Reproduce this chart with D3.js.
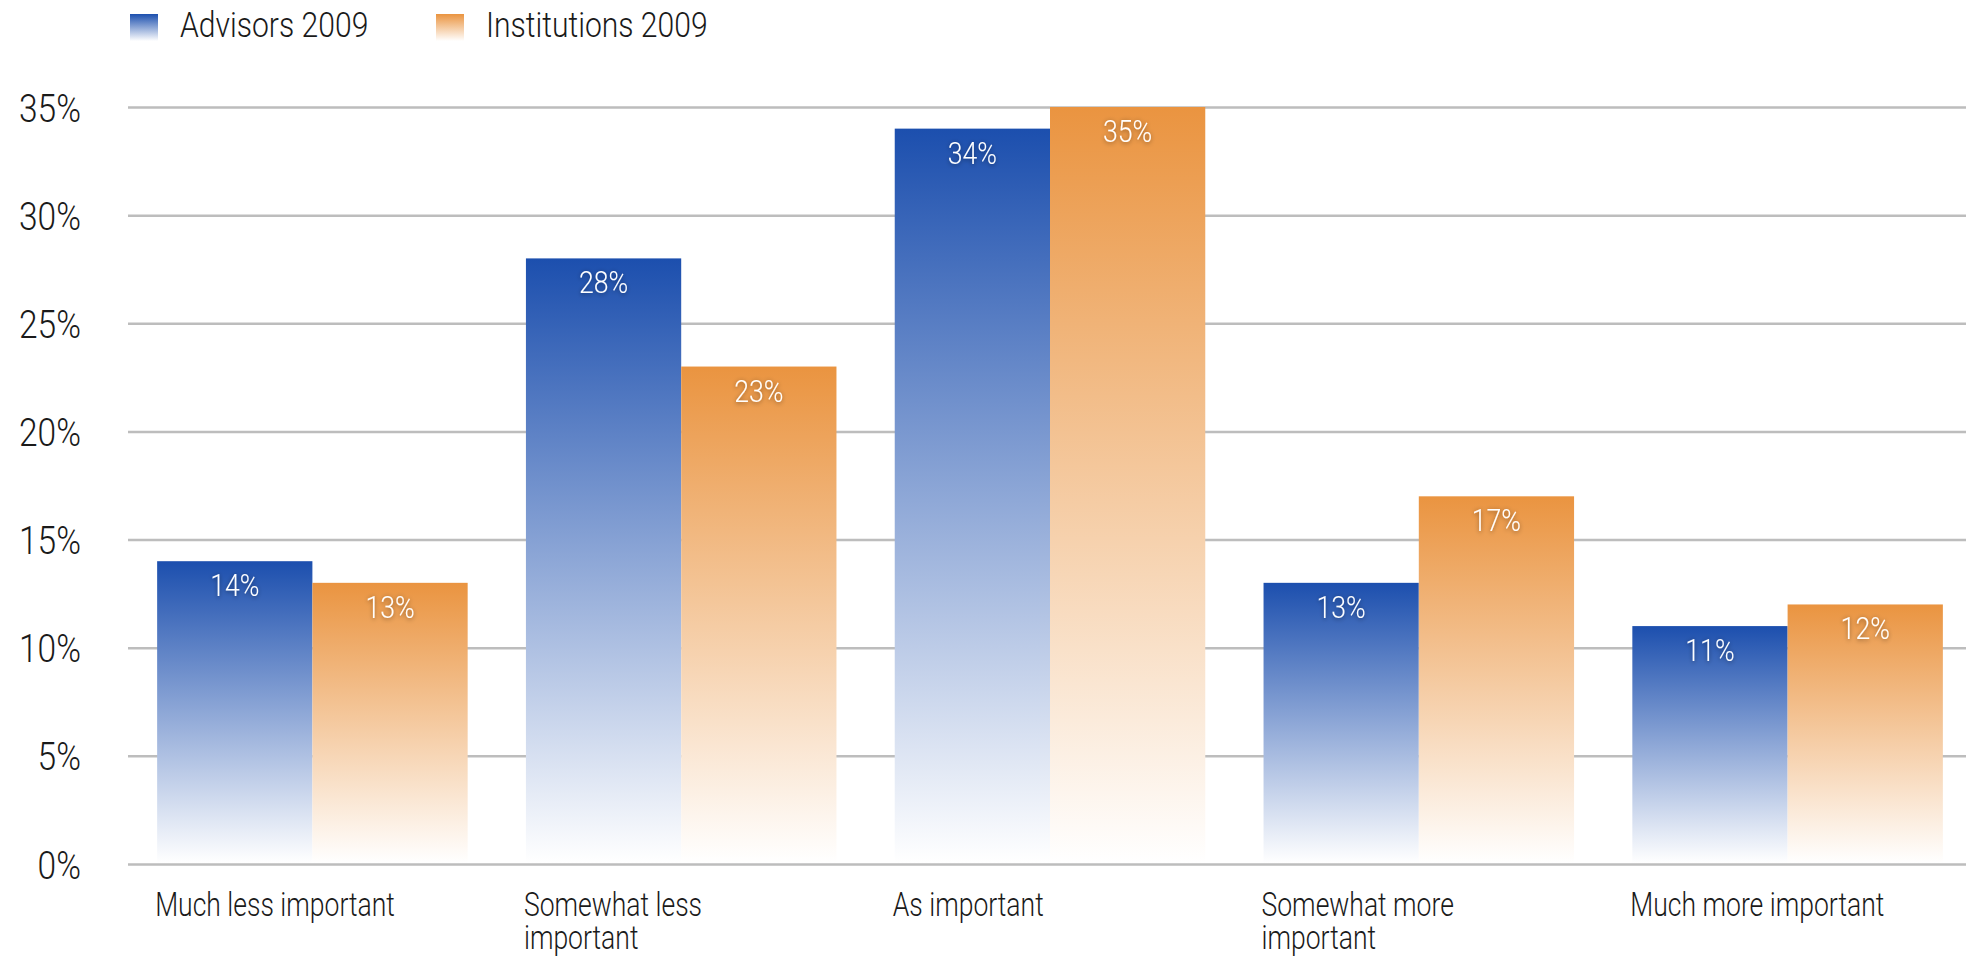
<!DOCTYPE html>
<html>
<head>
<meta charset="utf-8">
<script src="https://cdn.jsdelivr.net/npm/d3@7"></script>
<style>
  html, body { margin: 0; padding: 0; background: #ffffff; }
  svg { display: block; }
  text { font-family: Roboto, "Noto Sans", sans-serif; font-weight: 300; }
</style>
</head>
<body>
<svg id="chart" width="1972" height="958"></svg>
<script>
// Survey answers: importance compared with the previous period
const categories = ["Much less important", "Somewhat less important", "As important", "Somewhat more important", "Much more important"];
const seriesNames = ["Advisors 2009", "Institutions 2009"];
const advisors = [14, 28, 34, 13, 11];
const institutions = [13, 23, 35, 17, 12];
const yTicks = [0, 5, 10, 15, 20, 25, 30, 35];

const W = 1972, H = 958;
const margin = { left: 128, right: 4, top: 107, bottom: 94 };
const narrow = 0.86;            // horizontal squeeze for a condensed look
const narrowCat = 0.78;         // category labels are set a little tighter
const colors = {
  "Advisors 2009": ["#1c4fae", "#ffffff"],
  "Institutions 2009": ["#ea9440", "#ffffff"]
};

const svg = d3.select("#chart");
const defs = svg.append("defs");

// vertical gradients, strong at the top fading to white at the base
seriesNames.forEach((s, i) => {
  const g = defs.append("linearGradient")
    .attr("id", "grad" + i)
    .attr("x1", 0).attr("y1", 0).attr("x2", 0).attr("y2", 1);
  g.append("stop").attr("offset", "0%").attr("stop-color", colors[s][0]);
  g.append("stop").attr("offset", "100%").attr("stop-color", colors[s][1]);
});

const shadow = defs.append("filter").attr("id", "txtShadow")
  .attr("x", "-30%").attr("y", "-30%").attr("width", "160%").attr("height", "160%");
shadow.append("feDropShadow")
  .attr("dx", 0).attr("dy", 1).attr("stdDeviation", 2.5)
  .attr("flood-color", "#000").attr("flood-opacity", 0.45);

const x0 = d3.scaleBand()
  .domain(categories)
  .range([margin.left, W - margin.right + 4])
  .paddingInner(0.158)
  .paddingOuter(0.079);

const x1 = d3.scaleBand()
  .domain(seriesNames)
  .range([0, x0.bandwidth()]);

const y = d3.scaleLinear()
  .domain([0, 35])
  .range([H - margin.bottom, margin.top]);

// grid lines and y labels
const yAxis = d3.axisLeft(y)
  .tickValues(yTicks)
  .tickSize(-(1966 - margin.left))
  .tickPadding(47)
  .tickFormat(d => d + "%");

const gy = svg.append("g")
  .attr("transform", `translate(${margin.left},0)`)
  .call(yAxis);
gy.select(".domain").remove();
gy.selectAll(".tick line").attr("stroke", "#bdbdbd").attr("stroke-width", 2.5);
gy.selectAll(".tick text")
  .attr("fill", "#1a1a1a")
  .attr("font-size", 39)
  .attr("font-family", "Roboto, sans-serif")
  .attr("font-weight", 300)
  .attr("dy", "0.36em")
  .each(function () {
    const t = d3.select(this);
    const xx = +t.attr("x");
    t.attr("transform", `translate(${xx},0) scale(${narrow},1)`).attr("x", 0);
  });

// bars
const data = categories.map((c, i) => ({ cat: c, values: [advisors[i], institutions[i]] }));

const groups = svg.append("g").selectAll("g")
  .data(data)
  .join("g")
  .attr("transform", d => `translate(${x0(d.cat)},0)`);

groups.selectAll("rect")
  .data(d => d.values.map((v, j) => ({ s: seriesNames[j], j, v })))
  .join("rect")
  .attr("x", d => x1(d.s))
  .attr("width", x1.bandwidth())
  .attr("y", d => y(d.v))
  .attr("height", d => y(0) - y(d.v) - 1)
  .attr("fill", d => `url(#grad${d.j})`);

// value labels inside the bars
groups.selectAll("text.val")
  .data(d => d.values.map((v, j) => ({ s: seriesNames[j], j, v })))
  .join("text")
  .attr("class", "val")
  .attr("transform", d => `translate(${x1(d.s) + x1.bandwidth() / 2},${y(d.v) + 35}) scale(${narrow},1)`)
  .attr("text-anchor", "middle")
  .attr("font-size", 31)
  .attr("fill", "#ffffff")
  .attr("filter", "url(#txtShadow)")
  .text(d => d.v + "%");

// category labels, wrapped to the group width
const maxLine = 262;
svg.append("g").selectAll("text")
  .data(categories)
  .join("text")
  .attr("transform", d => `translate(${x0(d) - 2},916) scale(${narrowCat},1)`)
  .attr("font-size", 34)
  .attr("fill", "#1a1a1a")
  .each(function (d) {
    const t = d3.select(this);
    const words = d.split(" ");
    let line = [];
    let tspan = t.append("tspan").attr("x", 0).attr("dy", 0);
    words.forEach(w => {
      line.push(w);
      tspan.text(line.join(" "));
      if (tspan.node().getComputedTextLength() * narrowCat > maxLine && line.length > 1) {
        line.pop();
        tspan.text(line.join(" "));
        line = [w];
        tspan = t.append("tspan").attr("x", 0).attr("dy", 33).text(w);
      }
    });
  });

// legend
const legend = svg.append("g").selectAll("g")
  .data(seriesNames)
  .join("g")
  .attr("transform", (d, i) => `translate(${i === 0 ? 130 : 436},14)`);

legend.append("rect")
  .attr("width", 28)
  .attr("height", 27)
  .attr("fill", (d, i) => `url(#grad${i})`);

legend.append("text")
  .attr("transform", `translate(50,23) scale(${narrow},1)`)
  .attr("font-size", 35)
  .attr("fill", "#1a1a1a")
  .text(d => d);
</script>
</body>
</html>
